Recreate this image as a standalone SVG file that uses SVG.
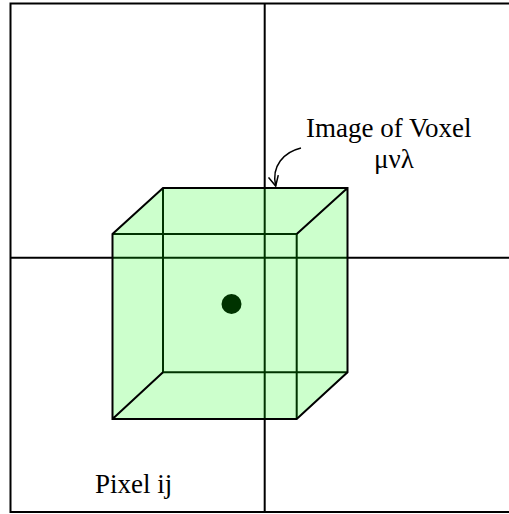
<svg xmlns="http://www.w3.org/2000/svg" width="509" height="514" viewBox="0 0 509 514">
  <style>
    .ln { stroke: #000; stroke-width: 2; fill: none; }
    .tx { font-family: "Liberation Serif", "Times New Roman", serif; font-size: 27px; fill: #000; }
  </style>
  <defs>
    <marker id="arr" viewBox="0 0 12 12" refX="11" refY="6" markerWidth="12" markerHeight="12" markerUnits="userSpaceOnUse" orient="auto">
      <path d="M1,1 L11,6 L1,11" fill="none" stroke="#000" stroke-width="1.5"/>
    </marker>
  </defs>
  <rect width="509" height="514" fill="#fff"/>
  <g id="grid">
    <rect x="10.5" y="3.5" width="520" height="508.5" class="ln"/>
    <line x1="264.7" y1="3.5" x2="264.7" y2="512" class="ln"/>
    <line x1="10.5" y1="257.7" x2="520" y2="257.7" class="ln"/>
  </g>
  <g id="voxel">
    <circle cx="231.5" cy="304" r="10" fill="#000"/>
    <path d="M112.5,234 H296.7 V419 M163,188 V372.3 H347.5" class="ln"/>
    <path d="M112.5,419 V234 L163,188 H347.5 V372.3 L296.7,419 Z" fill="#00ff00" fill-opacity="0.2" stroke="none"/>
    <path d="M112.5,419 V234 L163,188 H347.5 V372.3 L296.7,419 Z M296.7,234 L347.5,188 M163,372.3 L112.5,419" class="ln"/>
  </g>
  <g id="connectors">
    <path d="M301,148 C284,152 271,166 275.7,186" fill="none" stroke="#000" stroke-width="1.5" marker-end="url(#arr)"/>
  </g>
  <g id="label-voxel">
    <text x="306" y="137" class="tx">Image of Voxel</text>
    <text x="394" y="168" class="tx" text-anchor="middle">μνλ</text>
  </g>
  <g id="label-pixel">
    <text x="95" y="493" class="tx">Pixel ij</text>
  </g>
</svg>
